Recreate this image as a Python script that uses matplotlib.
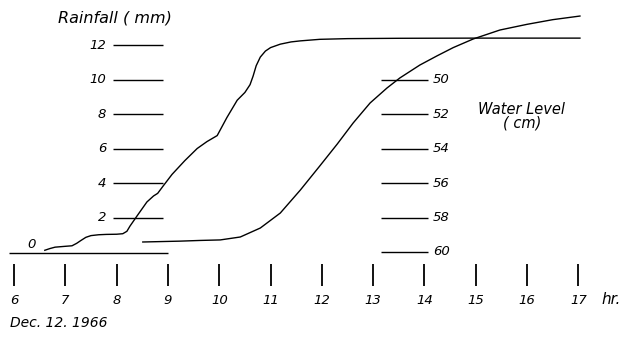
import matplotlib
matplotlib.use('Agg')
import matplotlib.pyplot as plt

# cumulative rainfall (mm) vs hour, Dec. 12 1966
rain_hr = [6.60, 6.70, 6.80, 7.00, 7.13, 7.22, 7.30, 7.40, 7.50, 7.65, 7.80, 8.00, 8.12,
           8.20, 8.26, 8.40, 8.59, 8.72, 8.80, 8.90, 9.08, 9.33, 9.57, 9.76, 9.96,
           10.15, 10.35, 10.50, 10.60, 10.66, 10.72, 10.80, 10.90, 11.00, 11.19, 11.40,
           11.58, 11.96, 12.50, 13.50, 15.00, 17.03]
rain_mm = [0.10, 0.20, 0.28, 0.33, 0.36, 0.50, 0.66, 0.85, 0.95, 1.00, 1.02, 1.03, 1.06,
           1.20, 1.50, 2.10, 2.90, 3.25, 3.40, 3.80, 4.50, 5.30, 6.00, 6.40, 6.75,
           7.80, 8.80, 9.25, 9.70, 10.20, 10.80, 11.30, 11.65, 11.85, 12.05, 12.18,
           12.24, 12.33, 12.37, 12.39, 12.40, 12.40]

# water level (cm, measured downward) vs hour
wl_hr = [8.51, 9.24, 9.63, 10.02, 10.41, 10.80, 11.19, 11.58, 11.96, 12.30, 12.61,
         12.94, 13.27, 13.52, 13.91, 14.25, 14.56, 14.95, 15.47, 16.00, 16.50, 17.03]
wl_cm = [59.42, 59.37, 59.33, 59.30, 59.13, 58.61, 57.74, 56.41, 55.01, 53.74, 52.52,
         51.36, 50.49, 49.91, 49.16, 48.62, 48.15, 47.65, 47.13, 46.80, 46.53, 46.32]

hours = list(range(6, 18))
rain_ticks = [0, 2, 4, 6, 8, 10, 12]
wl_ticks = [50, 52, 54, 56, 58, 60]

plt.rcParams['font.family'] = ['DejaVu Sans']
fs = 9.5
lw = 1.0

fig = plt.figure(figsize=(6.21, 3.41), dpi=100)
ax = fig.add_axes([0, 0, 1, 1])
ax.set_xlim(5.727, 17.83)
ax.set_ylim(-5.16, 14.61)
ax.axis('off')

ax2 = ax.twinx()
ax2.set_position([0, 0, 1, 1])
ax2.set_ylim(60 + 5.16, 60 - 14.61)
ax2.axis('off')

# rainfall curve and zero line
ax.plot(rain_hr, rain_mm, color='black', lw=lw)
ax.hlines(-0.05, 5.9, 9.0, color='black', lw=lw)
ax.text(6.35, 0.45, '0', fontsize=fs, style='italic', ha='center', va='center')

# rainfall scale
for t in rain_ticks[1:]:
    ax.hlines(t, 7.92, 8.90, color='black', lw=lw)
    ax.text(7.80, t, str(t), fontsize=fs, style='italic', ha='right', va='center')
ax.text(6.85, 13.55, 'Rainfall ( mm)', fontsize=11.5, style='italic', ha='left', va='center')

# water level curve and scale
ax2.plot(wl_hr, wl_cm, color='black', lw=lw)
for t in wl_ticks:
    ax2.hlines(t, 13.15, 14.07, color='black', lw=lw)
    ax2.text(14.17, t, str(t), fontsize=fs, style='italic', ha='left', va='center')
ax.text(15.9, 8.25, 'Water Level', fontsize=10.5, style='italic', ha='center', va='center')
ax.text(15.9, 7.45, '( cm)', fontsize=10.5, style='italic', ha='center', va='center')

# hour ticks
ax.vlines(hours, -1.97, -0.70, color='black', lw=lw + 0.3)
for h in hours:
    ax.text(h, -2.8, str(h), fontsize=fs, style='italic', ha='center', va='center')
ax.text(17.45, -2.75, 'hr.', fontsize=11, style='italic', ha='left', va='center')
ax.text(5.92, -4.1, 'Dec. 12. 1966', fontsize=10, style='italic', ha='left', va='center')

plt.savefig('out.png', dpi=100)
